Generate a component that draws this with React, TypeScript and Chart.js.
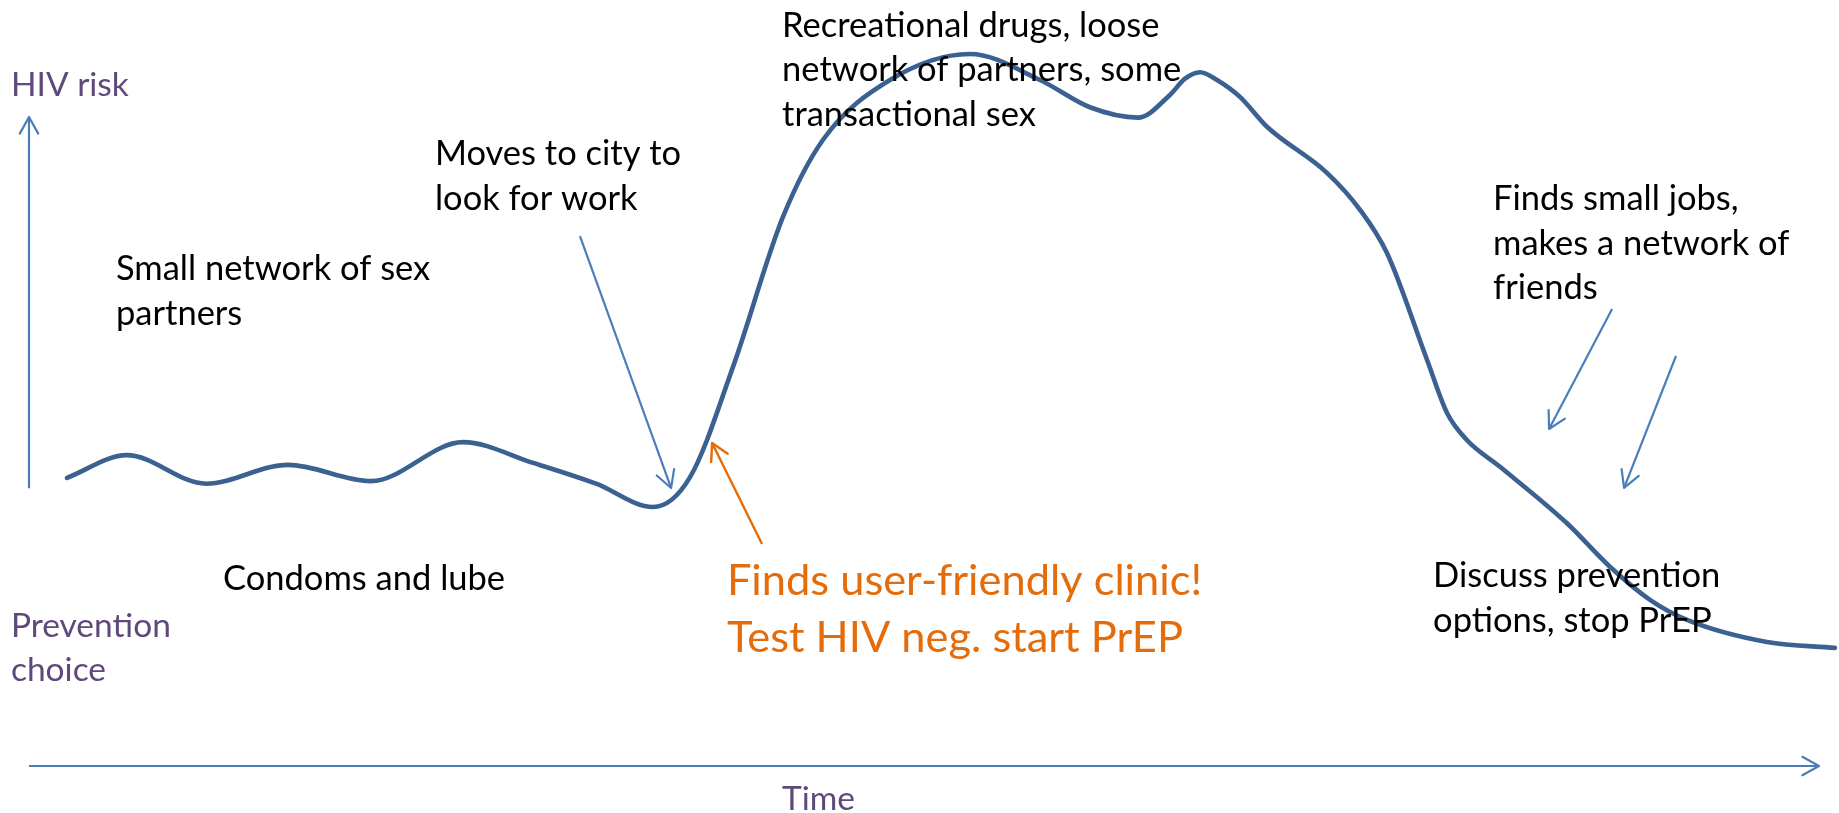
import React, { useEffect, useRef } from "react";
import { Chart, registerables } from "chart.js";

Chart.register(...registerables);

// ---- Data (time 0..100 along the Time axis, risk 0..100 up the HIV-risk axis) ----
const TIME = [
  2.12, 5.47, 9.89, 14.47, 19.11, 24.25, 28.16, 31.68, 34.86, 36.93, 39.33, 42.12,
  44.36, 48.1, 52.57, 56.48, 59.27, 61.96, 63.74, 64.58, 65.42, 66.37, 67.65, 69.16,
  72.51, 74.36, 75.87, 78.1, 79.22, 80.34, 82.18, 85.92, 88.32, 90.56, 92.63, 97.09,
  100.89,
];
const RISK = [
  44.4, 47.9, 43.5, 46.4, 43.9, 49.9, 46.7, 43.5, 39.9, 44.5, 61.5, 84.6,
  96.5, 105.7, 109.7, 105.7, 101.5, 99.9, 103.4, 105.9, 106.9, 105.7, 103.1, 98.5,
  91.4, 85.7, 79.0, 62.6, 54.4, 50.2, 46.1, 37.4, 30.7, 25.6, 22.5, 19.1,
  18.2,
];

// axes arrows: [tailT, tailR, headT, headR]
const AXIS_ARROWS = [
  [0, 42.8, 0, 100],
  [0, 0, 100, 0],
];
// pointer arrows (blue)
const BLUE_ARROWS = [
  [30.78, 81.66, 35.87, 42.84],
  [88.44, 70.42, 84.92, 51.93],
  [92.01, 63.17, 89.11, 42.84],
];
// pointer arrow (orange)
const ORANGE_ARROWS = [[40.95, 34.21, 38.16, 49.77]];

// annotation texts and their anchors (left edge, first baseline) in data units
const AXIS_LABELS = [["HIV risk"], ["Prevention", "choice"], ["Time"]];
const AXIS_LABEL_T = [-1.01, -1.01, 42.07];
const AXIS_LABEL_R = [103.24, 19.88, -6.78];

const NOTES = [
  ["Small network of sex", "partners"],
  ["Moves to city to", "look for work"],
  ["Condoms and lube"],
  ["Recreational drugs, loose", "network of partners, some", "transactional sex"],
  ["Finds small jobs,", "makes a network of", "friends"],
  ["Discuss prevention", "options, stop PrEP"],
];
const NOTE_T = [4.86, 22.68, 10.84, 42.07, 81.79, 78.44];
const NOTE_R = [74.88, 92.6, 27.12, 112.33, 85.67, 27.58];

const HIGHLIGHT = [["Finds user-friendly clinic!", "Test HIV neg. start PrEP"]];
const HIGHLIGHT_T = [38.99];
const HIGHLIGHT_R = [26.35];

// ---- Styles ----
const CURVE_COLOR = "#3B6190";
const BLUE = "#4A7EBB";
const ORANGE = "#E46C0A";
const PURPLE = "#5F497A";
const FONT_FAMILY = "Lato, 'Open Sans', sans-serif";
const AXIS_LABEL_SIZE = 33.5;
const NOTE_SIZE = 34.5;
const NOTE_LINE = 44.5;
const HIGHLIGHT_SIZE = 43.4;
const HIGHLIGHT_LINE = 57;

const toPoints = (a: number[]) => [
  { x: a[0], y: a[1] },
  { x: a[2], y: a[3] },
];

const arrowDataset = (a: number[], color: string, width: number) => ({
  data: toPoints(a),
  borderColor: color,
  borderWidth: width,
  pointRadius: 0,
  tension: 0,
  fill: false,
  clip: false as any,
  isArrow: true,
});

const notesPlugin = {
  id: "notesPlugin",
  afterDatasetsDraw(chart: any) {
    const { ctx } = chart;
    const xs = chart.scales.x;
    const ys = chart.scales.y;

    // arrowheads (open V) at the last point of each arrow dataset
    chart.data.datasets.forEach((ds: any, i: number) => {
      if (!ds.isArrow) return;
      const meta = chart.getDatasetMeta(i);
      const p0 = meta.data[0];
      const p1 = meta.data[1];
      const ang = Math.atan2(p1.y - p0.y, p1.x - p0.x);
      const len = 19;
      const spread = Math.PI / 6.2;
      ctx.save();
      ctx.strokeStyle = ds.borderColor;
      ctx.lineWidth = ds.borderWidth;
      ctx.lineCap = "round";
      ctx.lineJoin = "round";
      ctx.beginPath();
      ctx.moveTo(p1.x - len * Math.cos(ang - spread), p1.y - len * Math.sin(ang - spread));
      ctx.lineTo(p1.x, p1.y);
      ctx.lineTo(p1.x - len * Math.cos(ang + spread), p1.y - len * Math.sin(ang + spread));
      ctx.stroke();
      ctx.restore();
    });

    const drawBlock = (lines: string[], t: number, r: number, size: number, lh: number, color: string) => {
      const x = xs.getPixelForValue(t);
      const y = ys.getPixelForValue(r);
      ctx.save();
      ctx.font = `${size}px ${FONT_FAMILY}`;
      ctx.fillStyle = color;
      ctx.textAlign = "left";
      ctx.textBaseline = "alphabetic";
      lines.forEach((ln, k) => ctx.fillText(ln, x, y + k * lh));
      ctx.restore();
    };

    AXIS_LABELS.forEach((lines, i) =>
      drawBlock(lines, AXIS_LABEL_T[i], AXIS_LABEL_R[i], AXIS_LABEL_SIZE, NOTE_LINE, PURPLE)
    );
    NOTES.forEach((lines, i) => drawBlock(lines, NOTE_T[i], NOTE_R[i], NOTE_SIZE, NOTE_LINE, "#000000"));
    HIGHLIGHT.forEach((lines, i) =>
      drawBlock(lines, HIGHLIGHT_T[i], HIGHLIGHT_R[i], HIGHLIGHT_SIZE, HIGHLIGHT_LINE, ORANGE)
    );
  },
};

export default function App() {
  const canvasRef = useRef<HTMLCanvasElement | null>(null);

  useEffect(() => {
    document.body.style.margin = "0";
    document.body.style.background = "#ffffff";
    const canvas = canvasRef.current;
    if (!canvas) return;

    const datasets: any[] = [
      ...AXIS_ARROWS.map((a) => arrowDataset(a, BLUE, 2.2)),
      ...BLUE_ARROWS.map((a) => arrowDataset(a, BLUE, 2.2)),
      ...ORANGE_ARROWS.map((a) => arrowDataset(a, ORANGE, 2.4)),
      {
        data: TIME.map((t, i) => ({ x: t, y: RISK[i] })),
        borderColor: CURVE_COLOR,
        borderWidth: 4.6,
        pointRadius: 0,
        cubicInterpolationMode: "monotone",
        fill: false,
        clip: false,
        borderCapStyle: "round",
        borderJoinStyle: "round",
      },
    ];

    const chart = new Chart(canvas, {
      type: "line",
      data: { datasets },
      options: {
        responsive: false,
        animation: false,
        devicePixelRatio: 1,
        parsing: false as any,
        normalized: true,
        layout: { padding: { left: 29, right: 20, top: 117, bottom: 47 } },
        scales: {
          x: { type: "linear", min: 0, max: 100, display: false },
          y: { type: "linear", min: 0, max: 100, display: false },
        },
        plugins: {
          legend: { display: false },
          tooltip: { enabled: false },
        },
        events: [],
      },
      plugins: [notesPlugin],
    });

    return () => chart.destroy();
  }, []);

  return (
    <div style={{ width: 1839, height: 813, overflow: "hidden", background: "#fff" }}>
      <canvas ref={canvasRef} width={1839} height={813} style={{ display: "block" }} />
    </div>
  );
}
